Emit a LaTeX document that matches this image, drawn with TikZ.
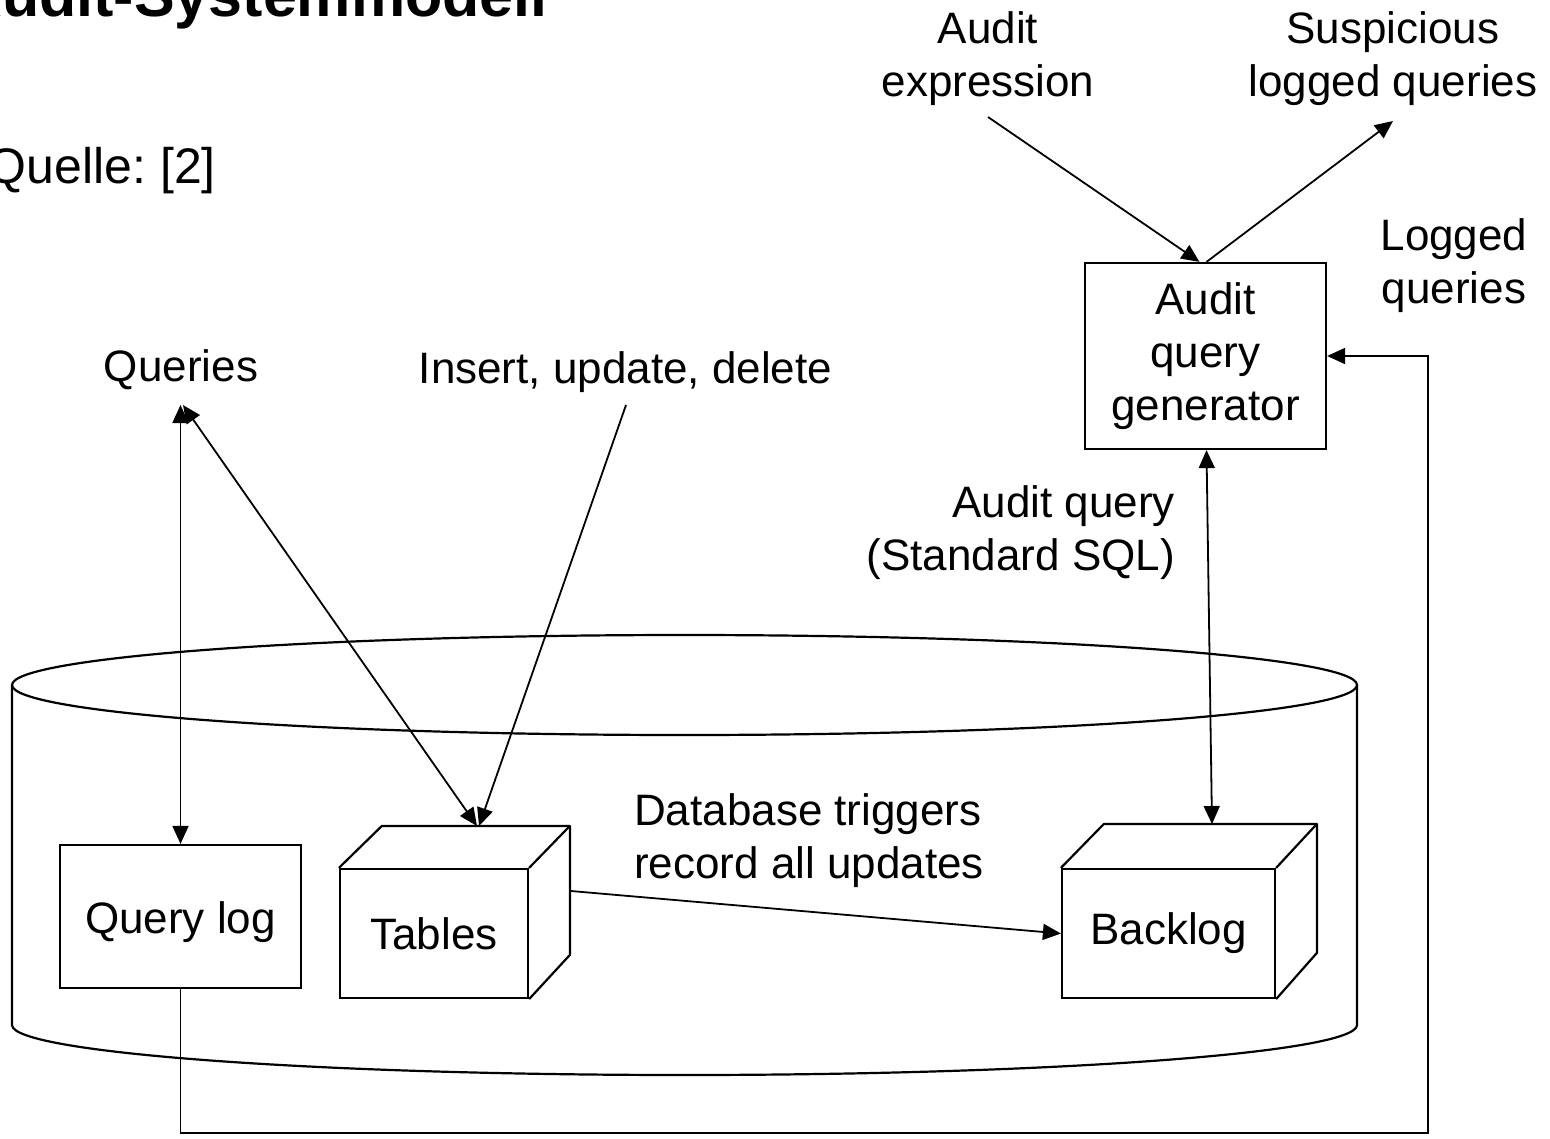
\documentclass[tikz,border=0pt]{standalone}
\usepackage{fontspec}
\setmainfont{Liberation Sans}
\usetikzlibrary{arrows.meta}
\frenchspacing
\begin{document}
\begin{tikzpicture}[x=1pt,y=-1pt,
  lbl/.style={font=\fontsize{44}{53}\selectfont, align=center, inner sep=0pt},
  bx/.style={line width=2.2pt},
  edge/.style={line width=1.8pt},
  arr/.style={edge,-{Triangle[length=18pt,width=16pt]}},
  darr/.style={edge,{Triangle[length=18pt,width=16pt]}-{Triangle[length=18pt,width=16pt]}}
]
\useasboundingbox (0,0) rectangle (1550,1138);

% title and source
\node[font=\fontsize{61}{70}\selectfont\bfseries, anchor=base east, inner sep=0pt] (title) at (548,16) {Audit-Systemmodell};
\node[font=\fontsize{50}{60}\selectfont, anchor=base east, inner sep=0pt] (src) at (216,183) {Quelle: [2]};

% cylinder
\draw[bx] (684.5,685) ellipse [x radius=672.5, y radius=50];
\draw[bx] (12,685) -- (12,1025) arc[start angle=180, end angle=0, x radius=672.5, y radius=50] -- (1357,685);

% query log
\node[bx, draw, lbl, text height=42pt, text depth=9pt, minimum width=241pt, minimum height=143pt] (qlog) at (180.5,916.5) {Query log};

% tables cube
\node[bx, draw, lbl, minimum width=188pt, minimum height=129pt] (tables) at (434,933.5) {Tables};
\draw[bx, line join=round] (tables.north west) -- ++(43,-42) coordinate (tbl) -- ++(188,0) coordinate (tbr) -- ++(0,129) coordinate (tbb) -- (tables.south east);
\draw[bx] (tables.north east) -- (tbr);

% backlog cube
\node[bx, draw, lbl, minimum width=213pt, minimum height=129pt] (backlog) at (1168.5,933.5) {Backlog};
\draw[bx, line join=round] (backlog.north west) -- ++(43,-44) coordinate (bbl) -- ++(213,0) coordinate (bbr) -- ++(0,129) -- (backlog.south east);
\draw[bx] (backlog.north east) -- (bbr);

% audit query generator
\node[bx, draw, lbl, minimum width=241pt, minimum height=186pt] (aqg) at (1205.5,356) {Audit\\query\\generator};

% labels
\node[lbl] (lae) at (988,59) {Audit\\expression};
\node[lbl] (lsq) at (1393,59) {Suspicious\\logged queries};
\node[lbl] (llq) at (1454,266) {Logged\\queries};
\node[lbl] (lq) at (181,370) {Queries};
\node[lbl] (liud) at (625.5,372) {Insert, update, delete};
\node[lbl, align=right, anchor=east] (laq) at (1175,533) {Audit query\\(Standard SQL)};
\node[lbl, align=left, anchor=west] (ldb) at (634,841) {Database triggers\\record all updates};

% connector end points
\coordinate (ae) at (988,117);
\coordinate (sq) at (1393,121);
\coordinate (qtop) at (180.5,405);
\coordinate (qtop2) at (183,405);
\coordinate (iud) at (626,405);
\coordinate (tt) at (477,826);
\coordinate (tt2) at (479,826);
\coordinate (bt) at (1212,824);
\coordinate (ts) at (571,891);

% connectors
\draw[arr] (ae) -- ([xshift=-6pt]aqg.north);
\draw[arr] ([xshift=1pt]aqg.north) -- (sq);
\draw[arr] (qlog.south) |- (1428,1133) |- (aqg.east);
\draw[darr] ([xshift=1pt]aqg.south) -- (bt);
\draw[darr] (qtop) -- (qlog.north);
\draw[darr] (qtop2) -- (tt);
\draw[arr] (iud) -- (tt2);
\draw[arr] (ts) -- (backlog.west);
\end{tikzpicture}
\end{document}
